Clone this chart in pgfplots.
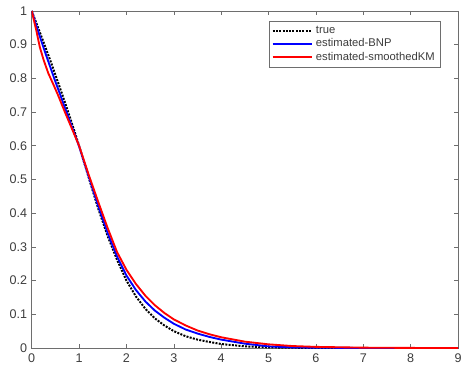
\documentclass[border=0pt]{standalone}
\usepackage{pgfplots}
\pgfplotsset{compat=1.18}
\usepackage{fontspec}
\setmainfont{Liberation Sans}
\definecolor{axgray}{RGB}{110,110,110}
\definecolor{lblgray}{RGB}{60,60,60}
\begin{document}
\begin{tikzpicture}
\begin{axis}[
  width=322.5pt, height=255pt, scale only axis,
  xmin=0, xmax=9, ymin=0, ymax=1,
  xtick={0,1,...,9},
  ytick={0,0.1,0.2,0.3,0.4,0.5,0.6,0.7,0.8,0.9,1},
  yticklabels={0,0.1,0.2,0.3,0.4,0.5,0.6,0.7,0.8,0.9,1},
  /pgf/number format/assume math mode=true,
  tick align=inside, major tick length=3pt,
  axis line style={axgray, line width=0.6pt},
  tick style={axgray, line width=0.5pt},
  ticklabel style={font=\fontsize{9.5}{11}\selectfont, text=lblgray},
  xticklabel style={yshift=-1pt},
  legend style={at={(0.958,0.971)}, anchor=north east, draw=axgray,
    font=\fontsize{8.5}{10}\selectfont, text=lblgray, row sep=-1.5pt,
    inner sep=2pt},
  legend cell align=left,
  legend image post style={},
  legend image code/.code={\draw[#1] (0pt,0pt) -- (30pt,0pt);},
]
\addplot[black, densely dotted, line width=1.5pt] coordinates {
(0,1) (0.1,0.963) (0.2,0.926) (0.3,0.888) (0.4,0.850) (0.5,0.810) (0.6,0.770)
(0.7,0.729) (0.8,0.687) (0.9,0.644) (1.0,0.600) (1.2,0.507) (1.4,0.415)
(1.6,0.333) (1.8,0.262) (2.0,0.200) (2.2,0.153) (2.4,0.116) (2.6,0.088)
(2.8,0.067) (3.0,0.050) (3.25,0.035) (3.5,0.025) (3.75,0.018) (4.0,0.012)
(4.5,0.005) (5.0,0.002) (5.5,0.001) (6,0.0003) (7,0) (9,0)};
\addlegendentry{true}
\addplot[blue, line width=1.4pt] coordinates {
(0,1) (0.1,0.955) (0.2,0.912) (0.3,0.870) (0.4,0.830) (0.5,0.790) (0.6,0.752)
(0.7,0.713) (0.8,0.675) (0.9,0.637) (1.0,0.598) (1.2,0.510) (1.4,0.423)
(1.6,0.342) (1.8,0.272) (2.0,0.215) (2.2,0.172) (2.4,0.138) (2.6,0.111)
(2.8,0.090) (3.0,0.072) (3.25,0.055) (3.5,0.043) (3.75,0.033) (4.0,0.025)
(4.5,0.013) (5.0,0.005) (5.5,0.002) (6,0.001) (7,0.0002) (9,0)};
\addlegendentry{estimated-BNP}
\addplot[red, line width=1.4pt] coordinates {
(0,1) (0.05,0.97) (0.1,0.94) (0.17,0.893) (0.25,0.855) (0.35,0.815)
(0.45,0.784) (0.55,0.752) (0.7,0.700) (0.85,0.650) (1.0,0.600) (1.2,0.515)
(1.4,0.435) (1.6,0.357) (1.8,0.285) (2.0,0.232) (2.2,0.190) (2.4,0.155)
(2.6,0.127) (2.8,0.104) (3.0,0.085) (3.25,0.067) (3.5,0.052) (3.75,0.041)
(4.0,0.032) (4.5,0.019) (5.0,0.011) (5.5,0.006) (6,0.0035) (7,0.0012)
(8,0.0004) (9,0.0001)};
\addlegendentry{estimated-smoothedKM}
\end{axis}
\path ([xshift=-24pt,yshift=-18.75pt]current axis.south west) rectangle ([xshift=3pt,yshift=8.25pt]current axis.north east);
\end{tikzpicture}
\end{document}
